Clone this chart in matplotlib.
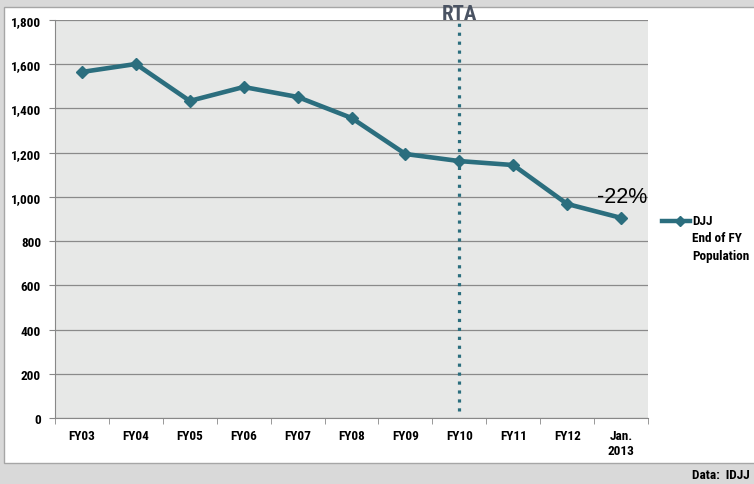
import matplotlib.pyplot as plt
from matplotlib.patches import Rectangle
from matplotlib.lines import Line2D
from matplotlib import font_manager

categories = ["FY03", "FY04", "FY05", "FY06", "FY07", "FY08", "FY09", "FY10", "FY11", "FY12", "Jan.\n2013"]
population = [1565, 1601, 1434, 1497, 1452, 1357, 1194, 1162, 1144, 968, 905]
yticks = [0, 200, 400, 600, 800, 1000, 1200, 1400, 1600, 1800]

teal = "#2b6e7e"
names = {f.name for f in font_manager.fontManager.ttflist}
font = [n for n in ["Liberation Sans Narrow", "Roboto Condensed", "Open Sans Condensed", "Roboto"] if n in names][:1] + ["DejaVu Sans"]
plt.rcParams["font.family"] = font

W, H = 754, 485
fig = plt.figure(figsize=(W / 100, H / 100), dpi=100)
fig.patch.set_facecolor("#d9d9d9")
# white panel
fig.patches.append(Rectangle((4 / W, 1 - 464 / H), 760 / W, 456 / H, transform=fig.transFigure,
                             facecolor="white", edgecolor="#a6a6a6", lw=1, zorder=-1))

ax = fig.add_axes([55 / W, 1 - 419 / H, (648 - 55) / W, 398 / H])
ax.set_facecolor("#e7e8e7")
x = range(len(categories))
ax.plot(x, population, color=teal, lw=3.3, marker="D", ms=6.5, zorder=3)
ax.set_xlim(-0.5, len(categories) - 0.5)
ax.set_ylim(0, 1800)
ax.set_yticks(yticks)
ax.set_yticklabels([f"{v:,}" for v in yticks], fontsize=9.5, fontweight="bold")
ax.set_xticks(list(x))
ax.set_xticklabels(categories, fontsize=9.5, fontweight="bold")
ax.set_xticks([i - 0.5 for i in range(len(categories) + 1)], minor=True)
ax.tick_params(axis="x", which="major", length=0, pad=8)
ax.tick_params(axis="x", which="minor", length=4, color="#888888")
ax.tick_params(axis="y", length=4, color="#888888", pad=6)
ax.grid(axis="y", color="#8a8a8a", lw=0.9)
ax.set_axisbelow(True)
for s in ["top", "right"]:
    ax.spines[s].set_visible(False)
for s in ["left", "bottom"]:
    ax.spines[s].set_color("#888888")

# RTA marker
rta = categories.index("FY10")
ax.vlines(rta, 30, 1800, colors=teal, linestyles=(0, (1, 1.8)), lw=2.3, zorder=2)
ax.annotate("RTA", (rta, 1800), xytext=(0, 5), textcoords="offset points", ha="center", va="center",
            fontsize=15, color="#4a5363", fontweight="bold", annotation_clip=False)
ax.annotate("-22%", (len(categories) - 1, population[-1]), xytext=(1, 8), textcoords="offset points",
            ha="center", va="bottom", fontsize=15.5, color="black", family=["Liberation Sans", "DejaVu Sans"])

# legend drawn by hand so the marker sits on the first label line
ly = 1 - 222 / H
fig.add_artist(Line2D([662 / W, 690 / W], [ly, ly], color=teal, lw=3.2, transform=fig.transFigure))
fig.add_artist(Line2D([680 / W], [ly], color=teal, marker="D", ms=5, transform=fig.transFigure))
fig.text(692 / W, 1 - 215 / H, "DJJ\nEnd of FY\nPopulation", ha="left", va="top", fontsize=9.5,
         fontweight="bold", linespacing=1.45)

fig.text(750 / W, 1 - 476 / H, "Data:  IDJJ", ha="right", va="center", fontsize=9.5, fontweight="bold")

fig.savefig("out.png", dpi=100, facecolor=fig.get_facecolor())
